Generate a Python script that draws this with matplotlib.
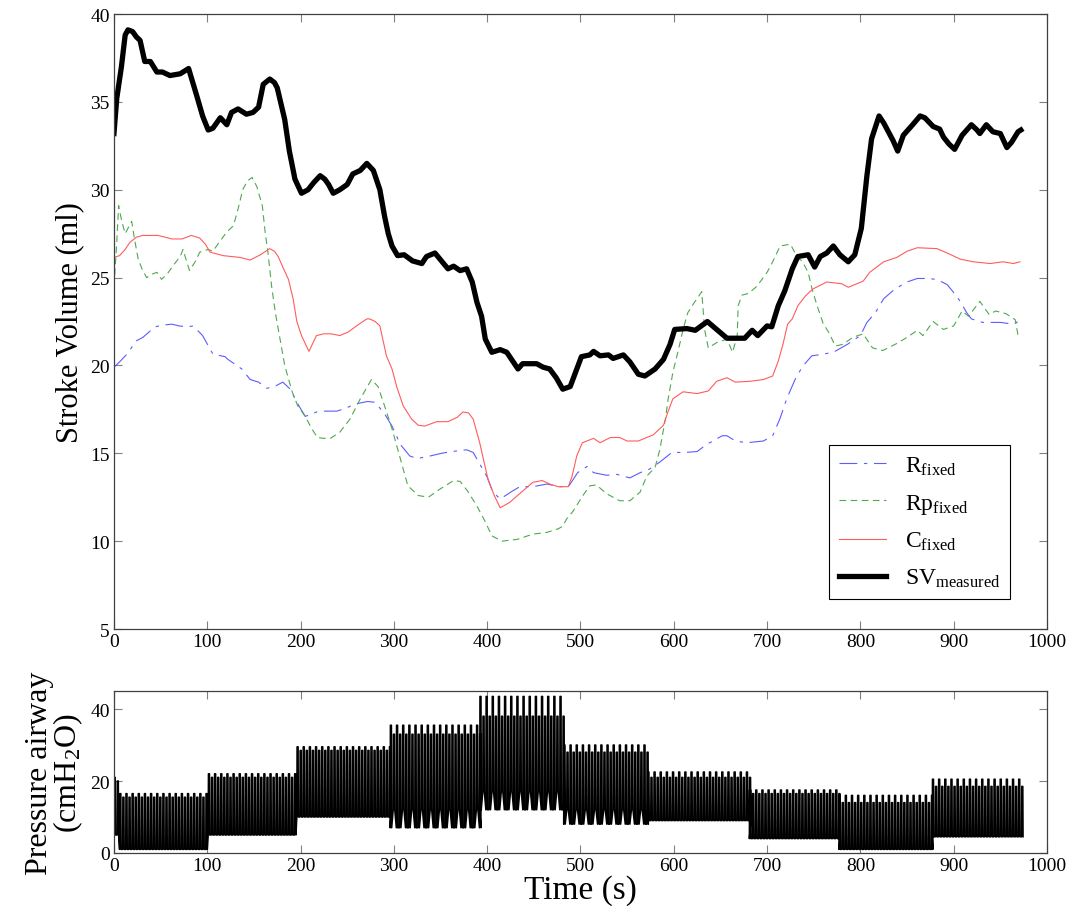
import matplotlib
matplotlib.use('Agg')
from matplotlib import pyplot as plt
import numpy as np

plt.rcParams['font.family'] = ['Liberation Serif', 'DejaVu Serif']
plt.rcParams['mathtext.fontset'] = 'custom'
plt.rcParams['mathtext.rm'] = 'Liberation Serif'
plt.rcParams['mathtext.it'] = 'Liberation Serif:italic'

# %% stroke volume traces (time s, volume ml)
sv_t = [0, 3, 8, 12, 15, 20, 24, 28, 33, 39, 46, 52, 60, 71, 80, 89, 95, 101, 106, 114,
        121, 126, 133, 142, 149, 155, 160, 167, 172, 175, 183, 188, 194, 201, 208, 214, 221,
        226, 230, 235, 242, 250, 256, 264, 271, 278, 285, 290, 294, 298, 304, 311, 320, 330,
        335, 344, 351, 358, 364, 371, 378, 384, 389, 394, 398, 405, 414, 421, 428, 433, 438,
        453, 460, 467, 474, 481, 489, 496, 501, 510, 514, 521, 530, 535, 546, 553, 562, 569,
        580, 589, 596, 601, 614, 623, 632, 636, 646, 657, 676, 684, 690, 700, 705, 712, 719,
        727, 733, 744, 751, 757, 764, 771, 778, 787, 794, 801, 807, 812, 820, 825, 830, 835,
        840, 846, 856, 864, 869, 878, 885, 889, 895, 901, 909, 919, 925, 928, 935, 942, 950,
        957, 962, 969, 972]
sv_meas = [33.2, 35.2, 37.0, 38.8, 39.1, 39.0, 38.7, 38.5, 37.3, 37.3, 36.7, 36.7, 36.5, 36.6,
           36.9, 35.3, 34.2, 33.4, 33.5, 34.1, 33.7, 34.4, 34.6, 34.3, 34.4, 34.7, 36.0, 36.3,
           36.1, 35.8, 34.0, 32.2, 30.6, 29.8, 30.0, 30.4, 30.8, 30.6, 30.3, 29.8, 30.0, 30.3,
           30.9, 31.1, 31.5, 31.1, 30.0, 28.5, 27.5, 26.8, 26.25, 26.3, 25.95, 25.8, 26.2, 26.4,
           25.95, 25.5, 25.65, 25.4, 25.5, 24.75, 23.6, 22.8, 21.5, 20.75, 20.9, 20.75, 20.2,
           19.8, 20.1, 20.1, 19.9, 19.8, 19.3, 18.65, 18.8, 19.8, 20.5, 20.6, 20.8, 20.55, 20.6,
           20.4, 20.6, 20.2, 19.5, 19.4, 19.8, 20.35, 21.2, 22.05, 22.1, 22.0, 22.35, 22.5,
           22.05, 21.55, 21.55, 22.0, 21.7, 22.25, 22.2, 23.4, 24.25, 25.5, 26.2, 26.3, 25.6,
           26.2, 26.4, 26.8, 26.3, 25.9, 26.3, 27.8, 30.8, 32.9, 34.2, 33.8, 33.3, 32.8, 32.2,
           33.1, 33.7, 34.2, 34.1, 33.6, 33.45, 33.0, 32.6, 32.3, 33.1, 33.7, 33.4, 33.2, 33.7,
           33.3, 33.2, 32.4, 32.7, 33.3, 33.4]

c_t = [0, 6, 12, 17, 24, 31, 47, 55, 62, 73, 83, 92, 98, 103, 117, 135, 146, 157, 167, 172,
       176, 181, 187, 192, 196, 201, 209, 217, 225, 233, 242, 251, 260, 271, 274, 280, 285,
       292, 298, 303, 310, 319, 326, 333, 346, 358, 368, 374, 380, 385, 392, 396, 401, 408,
       414, 424, 438, 449, 459, 467, 476, 487, 491, 496, 502, 514, 521, 532, 542, 550, 562,
       571, 578, 589, 594, 599, 610, 625, 637, 646, 657, 666, 682, 696, 706, 712, 717, 722,
       727, 733, 741, 749, 764, 780, 787, 803, 810, 825, 839, 850, 861, 882, 893, 907, 921,
       939, 953, 964, 971]
c_fixed = [26.15, 26.25, 26.6, 27.0, 27.3, 27.4, 27.4, 27.3, 27.2, 27.2, 27.4, 27.25, 26.9,
           26.45, 26.25, 26.15, 26.0, 26.3, 26.65, 26.5, 26.2, 25.6, 24.9, 23.8, 22.5, 21.7,
           20.8, 21.7, 21.8, 21.8, 21.7, 21.9, 22.25, 22.65, 22.65, 22.5, 22.25, 20.55, 19.8,
           18.8, 17.7, 16.95, 16.6, 16.55, 16.8, 16.8, 17.05, 17.35, 17.3, 16.95, 15.6, 14.65,
           13.5, 12.55, 11.9, 12.2, 12.85, 13.35, 13.45, 13.25, 13.1, 13.1, 13.7, 14.85, 15.6,
           15.85, 15.6, 15.9, 15.9, 15.7, 15.7, 15.9, 16.05, 16.6, 17.4, 18.1, 18.5, 18.4,
           18.55, 19.1, 19.3, 19.05, 19.1, 19.2, 19.4, 20.25, 21.2, 22.35, 22.65, 23.4, 23.95,
           24.35, 24.75, 24.65, 24.45, 24.8, 25.3, 25.9, 26.15, 26.5, 26.7, 26.65, 26.4, 26.05,
           25.9, 25.8, 25.9, 25.8, 25.9]

r_t = [0, 6, 14, 24, 31, 44, 53, 62, 70, 79, 85, 95, 106, 119, 122, 137, 146, 155, 164, 172,
       181, 189, 196, 205, 217, 224, 239, 250, 258, 272, 280, 290, 298, 307, 317, 325, 339,
       351, 362, 378, 385, 392, 400, 406, 414, 427, 435, 449, 464, 478, 487, 497, 507, 514,
       528, 539, 553, 564, 574, 585, 598, 612, 625, 635, 652, 657, 666, 678, 696, 706, 714,
       721, 730, 738, 748, 755, 771, 786, 800, 807, 816, 825, 837, 850, 861, 871, 882, 893,
       900, 907, 914, 919, 931, 950, 964, 969]
r_fixed = [19.9, 20.2, 20.65, 21.4, 21.6, 22.2, 22.3, 22.35, 22.25, 22.2, 22.25, 21.7, 20.65,
           20.5, 20.35, 19.8, 19.2, 19.05, 18.7, 18.8, 19.05, 18.65, 17.9, 17.1, 17.35, 17.4,
           17.4, 17.6, 17.8, 17.95, 17.9, 17.25, 16.55, 15.5, 14.85, 14.7, 14.85, 15.0, 15.1,
           15.2, 15.05, 14.4, 13.65, 12.8, 12.4, 12.85, 13.1, 13.1, 13.25, 13.1, 13.1, 13.9,
           14.25, 13.9, 13.75, 13.8, 13.6, 13.9, 14.1, 14.5, 15.05, 15.05, 15.1, 15.5, 16.0,
           16.0, 15.7, 15.6, 15.7, 16.0, 17.0, 18.1, 19.2, 19.95, 20.55, 20.6, 20.75, 21.2,
           21.7, 22.45, 23.0, 23.8, 24.35, 24.75, 24.95, 24.95, 24.9, 24.6, 24.15, 23.65, 23.0,
           22.65, 22.45, 22.45, 22.35, 22.5]

rp_t = [0, 3, 5, 8, 12, 17, 19, 22, 26, 30, 35, 41, 46, 51, 57, 63, 71, 74, 78, 81, 87, 92,
        101, 106, 114, 121, 128, 133, 138, 143, 148, 153, 159, 162, 165, 169, 173, 178, 183,
        191, 197, 205, 212, 218, 225, 232, 242, 253, 264, 276, 283, 290, 298, 304, 310, 315,
        326, 337, 349, 364, 371, 379, 389, 398, 405, 416, 432, 449, 464, 476, 481, 485, 492,
        502, 510, 517, 528, 542, 553, 564, 571, 580, 585, 591, 594, 599, 605, 610, 615, 621,
        630, 633, 637, 646, 657, 663, 668, 669, 673, 680, 689, 700, 706, 714, 725, 732, 738,
        744, 748, 753, 760, 767, 773, 781, 792, 803, 813, 824, 839, 850, 861, 867, 878, 889,
        900, 909, 916, 928, 938, 945, 956, 966, 969]
rp_fixed = [24.5, 27.0, 29.1, 28.3, 27.5, 28.0, 28.2, 27.2, 26.05, 25.5, 25.0, 25.2, 25.3,
            24.9, 25.2, 25.65, 26.2, 26.6, 25.9, 25.4, 25.9, 26.45, 26.6, 26.5, 27.1, 27.6,
            27.95, 28.9, 30.0, 30.5, 30.7, 30.2, 29.1, 27.6, 26.45, 24.5, 23.0, 21.5, 20.0,
            18.5, 17.7, 17.1, 16.4, 15.9, 15.85, 15.85, 16.2, 16.95, 18.1, 19.2, 18.8, 17.7,
            16.4, 15.25, 14.1, 13.15, 12.6, 12.5, 12.95, 13.45, 13.4, 12.85, 12.0, 11.1, 10.3,
            10.0, 10.1, 10.4, 10.5, 10.7, 10.85, 11.25, 11.7, 12.55, 13.15, 13.2, 12.7, 12.3,
            12.3, 12.8, 13.7, 14.2, 15.2, 16.95, 18.1, 19.6, 20.9, 22.05, 23.0, 23.5, 24.2,
            22.05, 21.0, 21.3, 21.5, 20.75, 21.7, 23.4, 24.0, 24.1, 24.5, 25.3, 25.9, 26.8,
            26.9, 26.2, 25.9, 25.3, 24.4, 23.5, 22.4, 21.8, 21.1, 21.2, 21.6, 21.8, 21.0,
            20.85, 21.25, 21.6, 22.0, 21.7, 22.5, 22.05, 22.25, 23.1, 22.8, 23.65, 22.9, 23.1,
            22.95, 22.6, 21.7]

# %% airway pressure: ventilator settings per step (s, cmH2O)
seg_t = [0, 6, 101, 196, 296, 392, 482, 572, 681, 777, 877, 975]
peep_lo = [5, 1, 5, 10, 7, 12, 8, 9, 4, 1, 4.5]
peep_hi = [5, 1, 5, 10, 12, 17, 12, 9, 4, 1, 4.5]
pip_lo = [20, 15.5, 21, 28.5, 33, 38, 28, 21, 16.5, 14, 18.5]
pip_hi = [21, 16.5, 22, 29.5, 35.5, 43.5, 30, 22.5, 17.5, 16, 20.5]
breath_period = 3.3

pt, pp = [], []
for i in range(len(seg_t) - 1):
    k = 0
    t0 = seg_t[i]
    while t0 < seg_t[i + 1]:
        lo = peep_hi[i] if k % 3 == 1 else peep_lo[i]
        hi = pip_hi[i] if k % 2 == 0 else pip_lo[i]
        pt += [t0, t0 + 0.08 * breath_period, t0 + 0.42 * breath_period, t0 + 0.5 * breath_period]
        pp += [lo, hi, hi, lo]
        t0 += breath_period
        k += 1

# %%
fig = plt.figure(figsize=(10.7, 9.12), dpi=100)
ax = fig.add_axes([0.1065, 0.3092, 0.872, 0.6743])
ax2 = fig.add_axes([0.1065, 0.0636, 0.872, 0.1776])

ax.plot(r_t, r_fixed, color='#5c5cff', lw=0.8, dashes=(16, 6, 3, 6), label=r'R$_{\mathrm{fixed}}$')
ax.plot(rp_t, rp_fixed, color='#4fa84f', lw=0.8, dashes=(6, 4), label=r'Rp$_{\mathrm{fixed}}$')
ax.plot(c_t, c_fixed, color='#ff5c5c', lw=0.8, label=r'C$_{\mathrm{fixed}}$')
ax.plot(sv_t, sv_meas, color='black', lw=3.8, label=r'SV$_{\mathrm{measured}}$')
ax.set_xlim(0, 1000)
ax.set_ylim(5, 40)
ax.set_xticks(np.arange(0, 1001, 100))
ax.set_yticks(np.arange(5, 41, 5))
ax.set_ylabel('Stroke Volume (ml)', fontsize=22)
leg = ax.legend(loc='lower right', bbox_to_anchor=(0.96, 0.049), borderaxespad=0,
                fontsize=17, handlelength=2.0, labelspacing=0.62, fancybox=False,
                edgecolor='black', framealpha=1)
leg.get_frame().set_linewidth(0.8)

ax2.plot(pt, pp, color='black', lw=1.1)
ax2.set_xlim(0, 1000)
ax2.set_ylim(0, 45)
ax2.set_xticks(np.arange(0, 1001, 100))
ax2.set_yticks([0, 20, 40])
ax2.set_xlabel('Time (s)', fontsize=24, labelpad=0)
ax2.set_ylabel('Pressure airway\n(cmH$_2$O)', fontsize=23, linespacing=0.9)

for a in (ax, ax2):
    a.tick_params(direction='in', top=True, right=True, length=6, width=0.8,
                  color='#808080', labelsize=14, pad=3)
    for s in a.spines.values():
        s.set_color('#404040')
        s.set_linewidth(0.9)

fig.savefig('out.png', dpi=100)
